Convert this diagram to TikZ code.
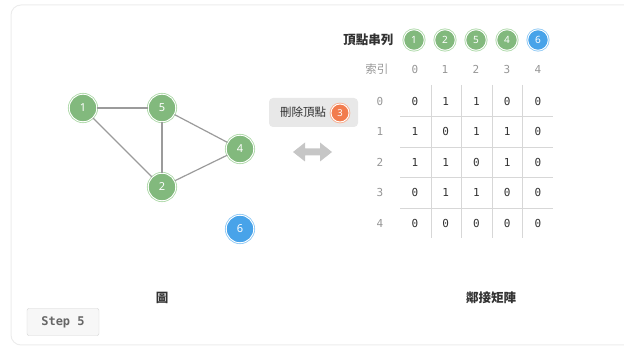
\documentclass[tikz,border=0pt]{standalone}
\usepackage{fontspec}
\setmainfont{Noto Sans}
\setmonofont{DejaVu Sans Mono}
\newfontfamily\cjk{Noto Sans CJK TC}
\definecolor{gfill}{RGB}{130,185,125}
\definecolor{gring}{RGB}{175,218,170}
\definecolor{bfill}{RGB}{72,163,233}
\definecolor{bring}{RGB}{145,202,245}
\definecolor{ofill}{RGB}{242,124,78}
\definecolor{oring}{RGB}{248,175,145}
\definecolor{edgec}{RGB}{155,155,155}
\definecolor{gridc}{RGB}{215,215,215}
\definecolor{txt}{RGB}{50,50,50}
\definecolor{idx}{RGB}{150,150,150}
\begin{document}
\begin{tikzpicture}[x=1pt,y=-1pt,
  vtx/.style={circle, minimum size=27.5pt, inner sep=0pt, text=white, font=\fontsize{11}{12}\selectfont,
    fill=#1fill, draw=white, line width=0.9pt, preaction={draw=#1ring, line width=2.6pt}},
  svtx/.style={vtx=#1, minimum size=20.5pt, font=\fontsize{10}{11}\selectfont},
  edge/.style={draw=edgec, line width=1.2pt},
  cell/.style={font=\ttfamily\fontsize{11}{12}\selectfont, text=txt},
  ind/.style={font=\ttfamily\fontsize{11}{12}\selectfont, text=idx},
  ttl/.style={font=\cjk\bfseries\fontsize{12.5}{14}\selectfont, text=txt},
  grid/.style={draw=gridc, line width=0.6pt}
]
\useasboundingbox (0,0) rectangle (624,347);
\draw[draw=gray!15, line width=1pt, rounded corners=10pt] (11,5) rectangle (660,345);
% graph
\node[vtx=g] (v1) at (83,108) {1};
\node[vtx=g] (v5) at (162,108) {5};
\node[vtx=g] (v4) at (240,149) {4};
\node[vtx=g] (v2) at (162,187) {2};
\node[vtx=b] (v6) at (240,229) {6};
\path[edge] (v1) -- (v5);
\path[edge] (v1) -- (v2);
\path[edge] (v5) -- (v2);
\path[edge] (v5) -- (v4);
\path[edge] (v2) -- (v4);
% operation box
\node[fill=gray!18, rounded corners=4pt, minimum width=89pt, minimum height=29pt, inner sep=0pt] (op) at (313.5,112.5) {};
\node[font=\cjk\fontsize{11.5}{13}\selectfont, text=txt, anchor=center] (opt) at (303,112.5) {刪除頂點};
\node[vtx=o, minimum size=18pt, font=\fontsize{9.5}{10}\selectfont] (o3) at (340,113) {3};
% double arrow
\fill[gray!45] (293,152) -- (305,142.5) -- (305,148.5) -- (320,148.5) -- (320,142.5) -- (332,152)
  -- (320,161.5) -- (320,155.5) -- (305,155.5) -- (305,161.5) -- cycle;
% vertex list
\node[ttl, anchor=east] (vl) at (397,40) {頂點串列};
\node[svtx=g] (l0) at (414,40) {1};
\node[svtx=g] (l1) at (445,40) {2};
\node[svtx=g] (l2) at (476,40) {5};
\node[svtx=g] (l3) at (507,40) {4};
\node[svtx=b] (l4) at (538,40) {6};
\node[font=\cjk\fontsize{11.5}{13}\selectfont, text=idx, anchor=east] (sy) at (392,69) {索引};
\foreach \i/\x in {0/415,1/445,2/476,3/507,4/538} {
  \node[ind] (c\i) at (\x,69) {\i};
  \node[ind] (r\i) at (380,101+30.5*\i) {\i};
}
% grid
\foreach \x in {431.5,461.5,492,522.5} \draw[grid] (\x,85) -- (\x,238);
\foreach \y in {116,147,177.5,208} \draw[grid] (400,\y) -- (553,\y);
% matrix
\foreach \r/\row in {0/{0,1,1,0,0},1/{1,0,1,1,0},2/{1,1,0,1,0},3/{0,1,1,0,0},4/{0,0,0,0,0}} {
  \foreach \v [count=\c from 0] in \row {
    \pgfmathsetmacro{\xx}{415+30.75*\c}
    \node[cell] (m\r\c) at (\xx,101+30.5*\r) {\v};
  }
}
% captions
\node[ttl] (cap1) at (162,298) {圖};
\node[ttl] (cap2) at (491,298) {鄰接矩陣};
\node[draw=gray!35, fill=gray!6, rounded corners=2pt, minimum width=72pt, minimum height=27pt, inner sep=0pt,
  font=\ttfamily\bfseries\fontsize{12}{13}\selectfont, text=gray!80!black] (step) at (63,322) {Step 5};
\end{tikzpicture}
\end{document}
